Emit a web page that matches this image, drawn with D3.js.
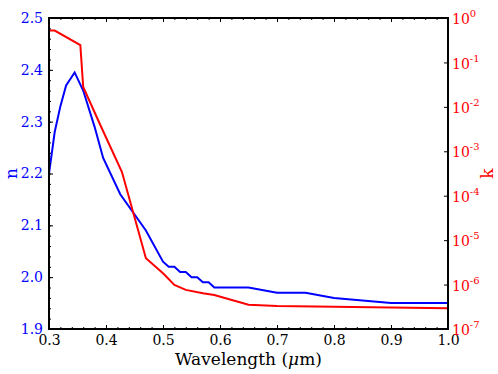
<!DOCTYPE html>
<html>
<head>
<meta charset="utf-8">
<script src="https://cdnjs.cloudflare.com/ajax/libs/d3/7.8.5/d3.min.js"></script>
<style>
  body { margin: 0; background: #fff; }
</style>
</head>
<body>
<div id="chart"></div>
<script>
// refractive index n (left axis)
const nWavelength = [0.30, 0.31, 0.32, 0.33, 0.345, 0.36, 0.38, 0.395, 0.425, 0.47,
    0.50, 0.51, 0.52, 0.53, 0.54, 0.55, 0.56, 0.57, 0.58, 0.59, 0.60, 0.65, 0.70, 0.75, 0.80, 0.90, 1.00];
const nValues = [2.20, 2.28, 2.33, 2.37, 2.395, 2.36, 2.29, 2.23, 2.16, 2.09,
    2.03, 2.02, 2.02, 2.01, 2.01, 2.00, 2.00, 1.99, 1.99, 1.98, 1.98, 1.98, 1.97, 1.97, 1.96, 1.95, 1.95];

// extinction coefficient k (right axis, log)
const kWavelength = [0.30, 0.31, 0.355, 0.36, 0.39, 0.428, 0.47, 0.50, 0.52, 0.54, 0.57, 0.59, 0.65, 0.70, 1.00];
const kValues = [0.52, 0.52, 0.245, 0.028, 3.9e-3, 3.4e-4, 3.9e-6, 1.8e-6, 9.8e-7, 7.6e-7, 6.4e-7, 5.8e-7, 3.5e-7, 3.3e-7, 2.95e-7];

const xTicks = [0.3, 0.4, 0.5, 0.6, 0.7, 0.8, 0.9, 1.0];
const nTicks = [1.9, 2.0, 2.1, 2.2, 2.3, 2.4, 2.5];
const kExponents = [0, -1, -2, -3, -4, -5, -6, -7];

function main() {
    const canvasWidth = 498;
    const canvasHeight = 374;
    const margin = { top: 18, left: 49, right: 50, bottom: 45 };
    const w = canvasWidth - margin.left - margin.right;
    const h = canvasHeight - margin.top - margin.bottom;
    const serif = "'DejaVu Serif', serif";

    const svg = d3.select("#chart").append("svg")
        .attr("width", canvasWidth)
        .attr("height", canvasHeight);

    const g = svg.append("g")
        .attr("transform", `translate(${margin.left},${margin.top})`);

    const x = d3.scaleLinear().domain([0.3, 1.0]).range([0, w]);
    const yN = d3.scaleLinear().domain([1.9, 2.5]).range([h, 0]);
    const yK = d3.scaleLog().domain([1e-7, 1]).range([h, 0]);

    const blue = "#0000ff", red = "#ff0000";

    svg.append("clipPath").attr("id", "clip")
        .append("rect").attr("width", w).attr("height", h);

    // lines
    const nLine = d3.line().x(d => x(d[0])).y(d => yN(d[1]));
    const kLine = d3.line().x(d => x(d[0])).y(d => yK(d[1]));

    g.append("path")
        .datum(d3.zip(nWavelength, nValues))
        .attr("clip-path", "url(#clip)")
        .attr("fill", "none").attr("stroke", blue).attr("stroke-width", 2)
        .attr("d", nLine);

    g.append("path")
        .datum(d3.zip(kWavelength, kValues))
        .attr("clip-path", "url(#clip)")
        .attr("fill", "none").attr("stroke", red).attr("stroke-width", 2)
        .attr("d", kLine);

    // minor tick positions
    const xMinor = d3.range(0.30, 1.001, 0.02);
    const nMinor = d3.range(1.90, 2.501, 0.02);

    // bottom axis
    g.append("g")
        .attr("transform", `translate(0,${h})`)
        .call(d3.axisBottom(x).tickValues(xMinor).tickSizeInner(-2).tickSizeOuter(0).tickFormat(""))
        .call(a => a.select(".domain").remove());
    g.append("g")
        .attr("class", "xaxis")
        .attr("transform", `translate(0,${h})`)
        .call(d3.axisBottom(x).tickValues(xTicks).tickSizeInner(-4).tickSizeOuter(0).tickPadding(6)
            .tickFormat(d3.format(".1f")))
        .call(a => a.select(".domain").remove());
    // top axis (ticks only)
    g.append("g")
        .call(d3.axisTop(x).tickValues(xMinor).tickSizeInner(-2).tickSizeOuter(0).tickFormat(""))
        .call(a => a.select(".domain").remove());
    g.append("g")
        .call(d3.axisTop(x).tickValues(xTicks).tickSizeInner(-4).tickSizeOuter(0).tickFormat(""))
        .call(a => a.select(".domain").remove());

    // left axis n
    g.append("g")
        .call(d3.axisLeft(yN).tickValues(nMinor).tickSizeInner(-2).tickSizeOuter(0).tickFormat(""))
        .call(a => a.select(".domain").remove());
    g.append("g")
        .attr("class", "naxis")
        .call(d3.axisLeft(yN).tickValues(nTicks).tickSizeInner(-4).tickSizeOuter(0).tickPadding(6)
            .tickFormat(d3.format(".1f")))
        .call(a => a.select(".domain").remove());

    // right axis k
    const kAxis = g.append("g")
        .attr("class", "kaxis")
        .attr("transform", `translate(${w},0)`)
        .call(d3.axisRight(yK).tickValues(kExponents.map(e => Math.pow(10, e)))
            .tickSizeInner(-4).tickSizeOuter(0).tickPadding(4).tickFormat(""))
        .call(a => a.select(".domain").remove());

    kAxis.selectAll(".tick text")
        .attr("dy", "0.4em")
        .each(function (d) {
            const t = d3.select(this);
            t.append("tspan").text("10");
            t.append("tspan").attr("dy", -7).style("font-size", "10px")
                .text(Math.round(Math.log10(d)));
        });

    g.selectAll(".tick line").attr("stroke", "#000").attr("stroke-width", 1);
    g.selectAll(".xaxis text").attr("fill", "#000");
    g.selectAll(".naxis text").attr("fill", blue);
    kAxis.selectAll("text").attr("fill", red);
    g.selectAll(".tick text")
        .style("font-family", serif)
        .style("font-size", "14px");
    kAxis.selectAll("tspan + tspan").style("font-size", "10px");

    // frame
    g.append("rect")
        .attr("width", w).attr("height", h)
        .attr("fill", "none").attr("stroke", "#000").attr("stroke-width", 2);

    // axis labels
    const xl = svg.append("text")
        .attr("x", margin.left + w / 2)
        .attr("y", 365)
        .attr("text-anchor", "middle")
        .style("font-family", serif)
        .style("font-size", "17px")
        .attr("fill", "#000");
    xl.append("tspan").text("Wavelength (");
    xl.append("tspan").attr("font-style", "italic").text("\u03bc");
    xl.append("tspan").text("m)");

    svg.append("text")
        .attr("transform", `translate(17,${margin.top + h / 2}) rotate(-90)`)
        .attr("text-anchor", "middle")
        .style("font-family", serif)
        .style("font-size", "17px")
        .attr("fill", blue)
        .text("n");

    svg.append("text")
        .attr("transform", `translate(493,${margin.top + h / 2}) rotate(-90)`)
        .attr("text-anchor", "middle")
        .style("font-family", serif)
        .style("font-size", "17px")
        .attr("fill", red)
        .text("k");
}
main();
</script>
</body>
</html>
